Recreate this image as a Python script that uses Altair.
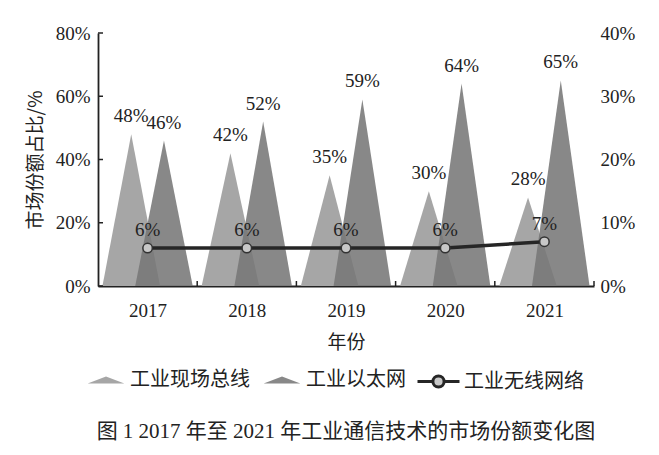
import altair as alt
import pandas as pd

# ---- data ----
years = [2017, 2018, 2019, 2020, 2021]
fieldbus = [48, 42, 35, 30, 28]      # 工业现场总线 (left axis)
ethernet = [46, 52, 59, 64, 65]      # 工业以太网 (left axis)
wireless = [6, 6, 6, 6, 7]           # 工业无线网络 (right axis)
series_names = ["工业现场总线", "工业以太网", "工业无线网络"]
left_ticks = [0, 20, 40, 60, 80]
right_ticks = [0, 10, 20, 30, 40]
x_title = "年份"
y_title = "市场份额占比/%"
caption = "图 1  2017 年至 2021 年工业通信技术的市场份额变化图"

# ---- styling ----
NUM_FONT = "Liberation Serif"
CJK_FONT = "Noto Sans CJK SC"
MIX_FONT = "Liberation Serif, Noto Sans CJK SC"
TXT = "#222222"
tri_colors = ["#a6a6a6", "rgba(118,118,118,0.87)"]
SHIFT = 0.165   # triangle offset from the category centre (in year units)
HALF = 0.29     # triangle half base width (in year units)
W, H = 496, 253

# triangle vertex table built from the value arrays
rows = []
for name, vals, shift in [(series_names[0], fieldbus, -SHIFT), (series_names[1], ethernet, SHIFT)]:
    for yr, v in zip(years, vals):
        c = yr + shift
        gid = f"{name}-{yr}"
        rows.append(dict(series=name, gid=gid, x=c - HALF, value=0, pos="left", label=""))
        rows.append(dict(series=name, gid=gid, x=c, value=v, pos="peak", label=f"{v}%"))
        rows.append(dict(series=name, gid=gid, x=c + HALF, value=0, pos="right", label=""))
tri = pd.DataFrame(rows)

line_df = pd.DataFrame({
    "year": years,
    "value": wireless,
    "label": [f"{v}%" for v in wireless],
    "s2": series_names[2],
})
bounds_df = pd.DataFrame({"x": [yr + 0.5 for yr in years]})
lticks_df = pd.DataFrame({"value": left_ticks})

xscale = alt.Scale(domain=[years[0] - 0.5, years[-1] + 0.5], nice=False, zero=False)
ylscale = alt.Scale(domain=[left_ticks[0], left_ticks[-1]], nice=False)
yrscale = alt.Scale(domain=[right_ticks[0], right_ticks[-1]], nice=False)

x_axis = alt.Axis(
    values=years, title=x_title, format="d", grid=False, ticks=False,
    labelOverlap=False, labelFlush=False, labelPadding=15, titlePadding=13,
)
yl_axis = alt.Axis(
    values=left_ticks, title=y_title, labelExpr="datum.value + '%'",
    grid=False, ticks=False, labelPadding=8, titlePadding=10,
)
yr_axis = alt.Axis(
    values=right_ticks, orient="right", title=None, labelExpr="datum.value + '%'",
    grid=False, domain=False, ticks=False, labelPadding=6,
)

TRI_PATH = "M-0.92,0.17L0,-0.17L0.92,0.17Z"
LINE_PATH = ("M-1.05,0L-0.28,0M0.28,0L1.05,0"
             "M0.28,0A0.28,0.28,0,1,1,-0.28,0A0.28,0.28,0,1,1,0.28,0Z")

tri_legend = alt.Legend(
    title=None, orient="none", legendX=-12, legendY=327, direction="horizontal",
    symbolType=TRI_PATH, symbolSize=1600, symbolStrokeWidth=0,
    labelFont=CJK_FONT, labelFontSize=20, labelColor=TXT,
    labelOffset=4, columnPadding=12,
)
line_legend = alt.Legend(
    title=None, orient="none", legendX=319, legendY=327, direction="horizontal",
    symbolType=LINE_PATH, symbolSize=1600, symbolStrokeWidth=3,
    symbolFillColor="#c8c8c8",
    labelFont=CJK_FONT, labelFontSize=20, labelColor=TXT, labelOffset=4,
)

color_enc = alt.Color("series:N", scale=alt.Scale(domain=series_names[:2], range=tri_colors),
                      legend=tri_legend)

base_l = alt.Chart(tri).encode(
    x=alt.X("x:Q", scale=xscale, axis=x_axis),
    y=alt.Y("value:Q", scale=ylscale, axis=yl_axis, stack=None),
)
tri_light = base_l.transform_filter(alt.datum.series == series_names[0]).mark_area().encode(
    color=color_enc, detail="gid:N")
tri_dark = base_l.transform_filter(alt.datum.series == series_names[1]).mark_area().encode(
    color=color_enc, detail="gid:N")
peak_text = base_l.transform_filter(alt.datum.pos == "peak").mark_text(
    baseline="bottom", dy=-8, font=NUM_FONT, fontSize=19, color=TXT).encode(text="label:N")
# inward tick marks of the left axis and at the category boundaries
lticks = alt.Chart(lticks_df).mark_rule(color=TXT, strokeWidth=1.5).encode(
    y=alt.Y("value:Q", scale=ylscale, axis=yl_axis), x=alt.value(0), x2=alt.value(5))
xticks = alt.Chart(bounds_df).mark_rule(color=TXT, strokeWidth=1.5).encode(
    x=alt.X("x:Q", scale=xscale, axis=x_axis), y=alt.value(H), y2=alt.value(H - 5))
left = alt.layer(tri_light, tri_dark, peak_text, lticks, xticks)

base_r = alt.Chart(line_df).encode(
    x=alt.X("year:Q", scale=xscale, axis=x_axis),
    y=alt.Y("value:Q", scale=yrscale, axis=yr_axis),
)
line = base_r.mark_line(strokeWidth=3.5).encode(
    stroke=alt.Stroke("s2:N", scale=alt.Scale(domain=[series_names[2]], range=["#262626"]),
                      legend=line_legend))
pts = base_r.mark_point(filled=True, fill="#c8c8c8", stroke="#333333",
                        strokeWidth=1.5, size=90, opacity=1)
line_text = base_r.mark_text(baseline="bottom", dy=-8, font=NUM_FONT, fontSize=19,
                             color=TXT).encode(text="label:N")
right = alt.layer(line, pts, line_text)

chart = alt.layer(left, right).resolve_scale(y="independent").properties(
    width=W, height=H,
    padding={"left": 18, "top": 16, "right": 5, "bottom": 5},
    title=alt.TitleParams(caption, orient="bottom", anchor="middle", font=MIX_FONT,
                          fontSize=21, fontWeight="normal", color=TXT, offset=27),
).configure_view(stroke=None).configure_axis(
    labelFont=NUM_FONT, labelFontSize=19, labelColor=TXT,
    titleFont=CJK_FONT, titleFontSize=19, titleFontWeight="normal", titleColor=TXT,
    domainColor=TXT, domainWidth=1.8,
)

chart.save("out.html", embed_options={"renderer": "svg", "actions": False})
